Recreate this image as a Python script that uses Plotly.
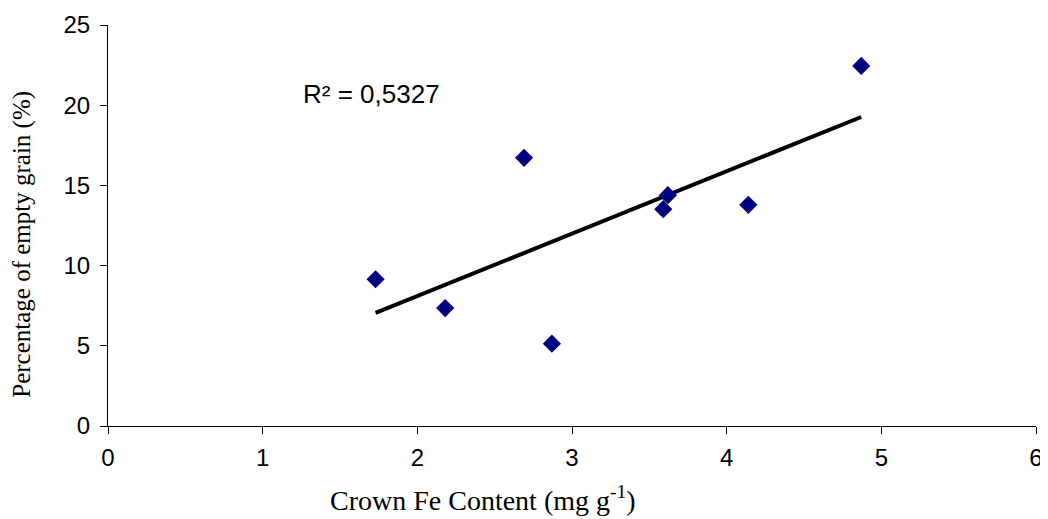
import numpy as np
import plotly.graph_objects as go

# Data
crown_fe = [1.73, 2.18, 2.69, 2.87, 3.59, 3.62, 4.14, 4.87]
empty_grain_pct = [9.15, 7.35, 16.72, 5.13, 13.52, 14.39, 13.79, 22.45]
r2_label = "R² = 0,5327"
x_title = "Crown Fe Content (mg g<sup>-1</sup>)"
y_title = "Percentage of empty grain (%)"
x_ticks = [0, 1, 2, 3, 4, 5, 6]
y_ticks = [0, 5, 10, 15, 20, 25]

slope, intercept = np.polyfit(crown_fe, empty_grain_pct, 1)
fit_x = [min(crown_fe), max(crown_fe)]
fit_y = [slope * v + intercept for v in fit_x]

fig = go.Figure()
fig.add_trace(go.Scatter(
    x=fit_x, y=fit_y, mode="lines",
    line=dict(color="black", width=4), showlegend=False, hoverinfo="skip"))
fig.add_trace(go.Scatter(
    x=crown_fe, y=empty_grain_pct, mode="markers",
    marker=dict(symbol="diamond", size=14, color="#000080"),
    showlegend=False))

fig.add_annotation(
    x=1.25, y=20.7, xref="x", yref="y", text=r2_label, showarrow=False,
    xanchor="left", yanchor="middle",
    font=dict(family="Liberation Sans, Arial", size=26, color="black"))

serif = dict(family="Liberation Serif, Times New Roman", color="black")
fig.add_annotation(
    x=0.404, y=0, xref="paper", yref="paper", text=x_title, showarrow=False,
    xanchor="center", yanchor="middle", yshift=-72,
    font=dict(size=28, **serif))
fig.add_annotation(
    x=0, y=0.452, xref="paper", yref="paper", text=y_title, showarrow=False,
    xanchor="center", yanchor="middle", xshift=-86, textangle=-90,
    font=dict(size=25, **serif))

axis_common = dict(
    showgrid=False, zeroline=False, showline=True, linecolor="black",
    linewidth=1, ticks="outside", ticklen=7, tickcolor="black", automargin=False,
    tickfont=dict(family="Liberation Sans, Arial", size=24, color="black"))

fig.update_xaxes(range=[0, 6], tickvals=x_ticks, ticklabelstandoff=3, **axis_common)
fig.update_yaxes(range=[0, 25], tickvals=y_ticks, ticklabelstandoff=5, **axis_common)

fig.update_layout(
    width=1040, height=511,
    margin=dict(l=100, r=12, t=17, b=93),
    plot_bgcolor="white", paper_bgcolor="white")

fig.write_html("out.html")
